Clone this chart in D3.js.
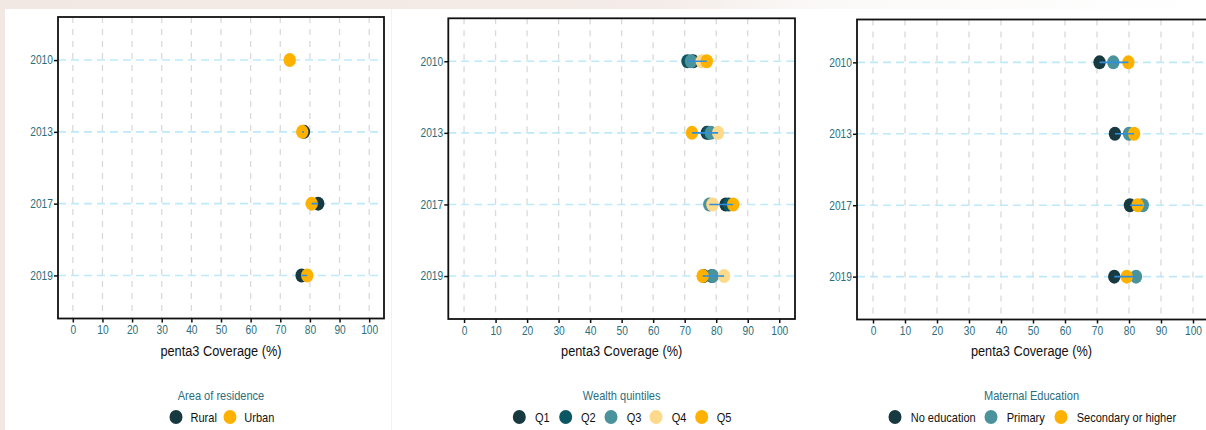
<!DOCTYPE html>
<html><head><meta charset="utf-8">
<script src="https://cdn.jsdelivr.net/npm/d3@7"></script>
<style>
html,body{margin:0;padding:0;background:#fff;}
svg{display:block;font-family:"Liberation Sans",Arial,sans-serif;}
</style></head>
<body>
<svg id="chart" width="1206" height="430"></svg>
<script>
// ---------- data ----------
const years = ["2010", "2013", "2017", "2019"];
const xTicks = [0, 10, 20, 30, 40, 50, 60, 70, 80, 90, 100];
const axisTitle = "penta3 Coverage (%)";

const residenceTitle = "Area of residence";
const residenceGroups = ["Rural", "Urban"];
const rural = [null, 78.0, 82.8, 77.2];
const urban = [73.2, 77.4, 80.6, 79.1];

const wealthTitle = "Wealth quintiles";
const wealthGroups = ["Q1", "Q2", "Q3", "Q4", "Q5"];
const q1 = [72.7, 77.0, 83.0, 76.0];
const q2 = [70.9, 77.5, 84.0, 78.6];
const q3 = [72.0, 78.3, 77.8, 78.9];
const q4 = [75.4, 80.6, 78.8, 82.5];
const q5 = [77.0, 72.3, 85.4, 75.7];

const eduTitle = "Maternal Education";
const eduGroups = ["No education", "Primary", "Secondary or higher"];
const noEducation = [70.8, 75.6, 80.3, 75.4];
const primary = [75.1, 80.0, 84.3, 82.2];
const secondary = [79.8, 81.6, 82.7, 79.3];

// ---------- styles ----------
const C_DARK = "#173940", C_Q2 = "#0b5663", C_TEAL = "#4a929c", C_LIGHT = "#fdd98b", C_GOLD = "#ffb100";
const TEXT_TEAL = "#2b6e7c";

const panels = [
  {title: residenceTitle, groups: residenceGroups, series: [rural, urban], colors: [C_DARK, C_GOLD],
   box: {l: 58, r: 384, t: 17, b: 318.5},
   legend: {dots: [176, 230], texts: [190.5, 244.3]}},
  {title: wealthTitle, groups: wealthGroups, series: [q1, q2, q3, q4, q5], colors: [C_DARK, C_Q2, C_TEAL, C_LIGHT, C_GOLD],
   box: {l: 448.3, r: 795, t: 18.3, b: 319},
   legend: {dots: [519.3, 565.7, 611, 656, 701.7], texts: [535, 581, 626.7, 671.7, 716.7]}},
  {title: eduTitle, groups: eduGroups, series: [noEducation, primary, secondary], colors: [C_DARK, C_TEAL, C_GOLD],
   box: {l: 857, r: 1209, t: 19.5, b: 319.5},
   legend: {dots: [895, 991, 1061], texts: [910.7, 1006.7, 1076.7]}}
];

const svg = d3.select("#chart");

const defs = svg.append("defs");
const g1 = defs.append("linearGradient").attr("id", "bgGrad").attr("x1", 0).attr("x2", 1).attr("y1", 0).attr("y2", 0);
g1.append("stop").attr("offset", "0%").attr("stop-color", "#f2e8e3");
g1.append("stop").attr("offset", "55%").attr("stop-color", "#f4ece8");
g1.append("stop").attr("offset", "68%").attr("stop-color", "#fbf9f8");
g1.append("stop").attr("offset", "100%").attr("stop-color", "#ffffff");
svg.append("rect").attr("width", 1206).attr("height", 430).attr("fill", "url(#bgGrad)");
svg.append("rect").attr("x", 5).attr("y", 9).attr("width", 1201).attr("height", 421).attr("fill", "#fff");
svg.append("line").attr("x1", 391.5).attr("x2", 391.5).attr("y1", 9).attr("y2", 430).attr("stroke", "#f6f0ee").attr("stroke-width", 1);

function squeezedText(g, x, y, txt, size, sx, fill, anchor) {
  return g.append("text").attr("transform", `translate(${x},${y}) scale(${sx},1)`)
    .attr("text-anchor", anchor).attr("fill", fill).style("font-size", size + "px").text(txt);
}

panels.forEach(p => {
  const b = p.box;
  const x = d3.scaleLinear().domain([-5, 105]).range([b.l, b.r]);
  const y = d3.scalePoint().domain(years).range([b.t, b.b]).padding(0.6);
  const g = svg.append("g");

  const cid = "clip" + Math.round(b.l);
  defs.append("clipPath").attr("id", cid).append("rect").attr("x", b.l).attr("y", b.t).attr("width", b.r - b.l).attr("height", b.b - b.t);
  const plot = g.append("g").attr("clip-path", `url(#${cid})`);

  plot.selectAll(".vg").data(xTicks).enter().append("line")
    .attr("x1", d => x(d)).attr("x2", d => x(d)).attr("y1", b.t).attr("y2", b.b)
    .attr("stroke", "#d9d9d9").attr("stroke-width", 1.3).attr("stroke-dasharray", "6,6");
  plot.selectAll(".hg").data(years).enter().append("line")
    .attr("x1", b.l).attr("x2", b.r).attr("y1", d => y(d)).attr("y2", d => y(d))
    .attr("stroke", "#bde9fa").attr("stroke-width", 1.6).attr("stroke-dasharray", "8,5");

  p.series.forEach((s, i) => {
    const pts = years.map((yr, j) => ({yr, v: s[j]})).filter(d => d.v != null);
    plot.selectAll(null).data(pts).enter().append("ellipse")
      .attr("cx", d => x(d.v)).attr("cy", d => y(d.yr)).attr("rx", 6.2).attr("ry", 7)
      .attr("fill", p.colors[i]);
  });
  years.forEach((yr, j) => {
    const vals = p.series.map(s => s[j]).filter(v => v != null);
    const lo = d3.min(vals), hi = d3.max(vals);
    plot.append("line").attr("x1", x(lo)).attr("x2", x(hi)).attr("y1", y(yr)).attr("y2", y(yr))
      .attr("stroke", "#2f8fdc").attr("stroke-width", 1.6);
  });

  g.append("rect").attr("x", b.l).attr("y", b.t).attr("width", b.r - b.l).attr("height", b.b - b.t)
    .attr("fill", "none").attr("stroke", "#111").attr("stroke-width", 1.8);

  const ya = g.append("g").attr("transform", `translate(${b.l},0)`)
    .call(d3.axisLeft(y).tickSize(4).tickPadding(2));
  ya.select(".domain").remove();
  ya.selectAll(".tick line").attr("stroke", "#111").attr("stroke-width", 1.5);
  ya.selectAll(".tick text").attr("fill", TEXT_TEAL).attr("transform", "scale(0.85,1)")
    .style("font-size", "12px").style("font-family", "Liberation Sans, Arial, sans-serif");

  const xa = g.append("g").attr("transform", `translate(0,${b.b})`)
    .call(d3.axisBottom(x).tickValues(xTicks).tickSize(4).tickPadding(3));
  xa.select(".domain").remove();
  xa.selectAll(".tick line").attr("stroke", "#111").attr("stroke-width", 1.5);
  xa.selectAll(".tick text").attr("fill", TEXT_TEAL).attr("transform", "scale(0.85,1)")
    .style("font-size", "12px").style("font-family", "Liberation Sans, Arial, sans-serif");

  const cx = (b.l + b.r) / 2 - (b.r > 1206 ? 1.5 : 0);
  squeezedText(g, cx, 356, axisTitle, 14.5, 0.88, "#111", "middle");

  squeezedText(g, cx, 399.5, p.title, 13, 0.85, TEXT_TEAL, "middle");
  p.groups.forEach((grp, i) => {
    g.append("ellipse").attr("cx", p.legend.dots[i]).attr("cy", 417).attr("rx", 6.5).attr("ry", 7).attr("fill", p.colors[i]);
    squeezedText(g, p.legend.texts[i], 421.5, grp, 13, 0.85, "#111", "start");
  });
});
</script>
</body></html>
